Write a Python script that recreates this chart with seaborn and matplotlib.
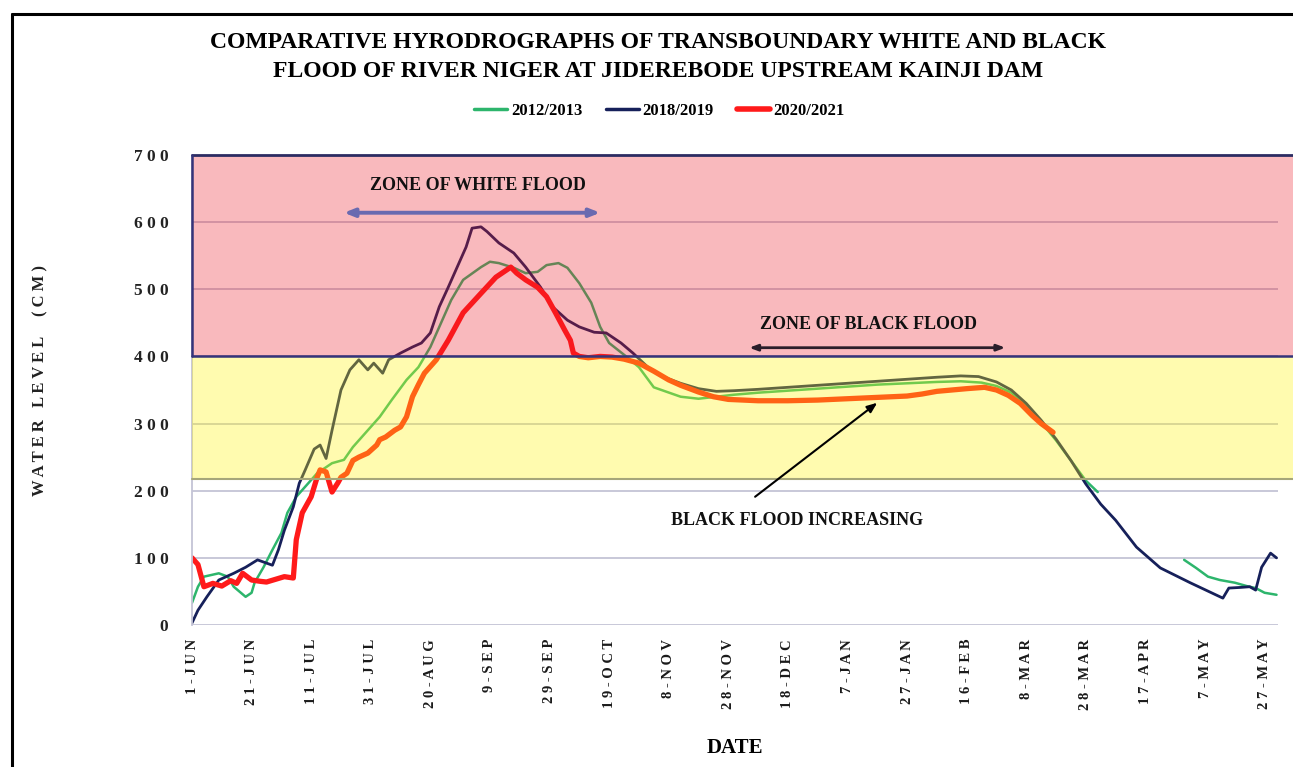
import numpy as np
import pandas as pd
import seaborn as sns
import matplotlib.pyplot as plt
from matplotlib.lines import Line2D
from matplotlib.patches import Rectangle


red_day = [0, 2, 4, 7, 10, 13, 15, 17, 20, 23, 25, 28, 31, 34, 35, 37, 40, 42, 43, 45,
           47, 49, 50, 52, 54, 56, 59, 62, 63, 65, 68, 70, 72, 74, 76, 78, 80, 82, 86, 91,
           97, 102, 105, 107, 109, 112, 116, 119, 122, 125, 127, 128, 130, 133, 137, 141, 145, 150, 155, 160,
           164, 170, 175, 180, 190, 200, 210, 220, 230, 240, 245, 250, 260, 266, 270, 274, 278, 282, 285, 289]
red_lvl = [100, 90, 57, 62, 58, 66, 62, 77, 67, 65, 64, 68, 72, 70, 127, 167, 191, 220, 231, 228,
           198, 212, 220, 226, 245, 250, 256, 268, 276, 280, 290, 295, 310, 340, 358, 375, 385, 395, 424, 465,
           494, 518, 527, 533, 524, 514, 503, 489, 465, 440, 424, 405, 400, 398, 400, 399, 396, 390, 378, 365,
           357, 347, 340, 336, 334, 334, 335, 337, 339, 341, 344, 348, 352, 354, 350, 342, 330, 312, 300, 287]

green_day_a = [0, 2, 4, 9, 12, 14, 18, 20, 21, 24, 27, 30, 32, 35, 38, 42, 47, 51, 54, 59,
               63, 67, 72, 76, 80, 83, 87, 91, 97, 100, 103, 108, 112, 116, 119, 123, 126, 130, 134, 137,
               140, 146, 150, 155, 164, 170, 176, 182, 190, 200, 210, 220, 230, 240, 250, 258, 265, 270, 275, 280,
               285, 290, 295, 300, 304]
green_lvl_a = [33, 57, 72, 77, 72, 57, 42, 48, 63, 86, 112, 137, 167, 191, 206, 226, 241, 246, 265, 290,
               310, 335, 365, 384, 414, 444, 484, 514, 533, 541, 539, 532, 524, 526, 536, 539, 532, 509, 480, 444,
               420, 399, 384, 354, 340, 337, 340, 343, 346, 349, 352, 355, 358, 360, 362, 363, 361, 356, 346, 327,
               302, 275, 245, 215, 198]
green_day_b = [333, 337, 341, 345, 350, 354, 357, 360, 364]
green_lvl_b = [97, 85, 72, 67, 63, 58, 55, 48, 45]

navy_day = [0, 2, 5, 9, 14, 18, 22, 27, 29, 31, 34, 36, 38, 41, 43, 45, 47, 50, 53, 56,
            59, 61, 64, 66, 70, 74, 77, 80, 83, 86, 89, 92, 94, 97, 99, 103, 108, 112, 117, 121,
            126, 130, 135, 139, 144, 148, 153, 158, 164, 170, 176, 182, 190, 200, 210, 220, 230, 240, 250, 258,
            264, 270, 275, 280, 285, 290, 295, 300, 305, 310, 317, 325, 335, 346, 348, 352, 355, 357, 359, 362, 364]
navy_lvl = [3, 22, 42, 67, 77, 86, 97, 89, 112, 141, 176, 211, 231, 262, 268, 248, 290, 350, 380, 395,
            380, 390, 375, 395, 405, 414, 420, 435, 474, 503, 533, 563, 591, 593, 586, 569, 554, 533, 503, 474,
            454, 444, 436, 435, 420, 405, 384, 370, 360, 352, 348, 349, 351, 354, 357, 360, 363, 366, 369, 371,
            370, 362, 350, 330, 305, 277, 245, 210, 180, 156, 116, 85, 63, 40, 55, 56, 57, 52, 86, 107, 100]

tick_days = list(range(0, 361, 20))
tick_names = ["1-JUN", "21-JUN", "11-JUL", "31-JUL", "20-AUG", "9-SEP", "29-SEP", "19-OCT",
              "8-NOV", "28-NOV", "18-DEC", "7-JAN", "27-JAN", "16-FEB", "8-MAR", "28-MAR",
              "17-APR", "7-MAY", "27-MAY"]
y_ticks = [0, 100, 200, 300, 400, 500, 600, 700]
series_names = ["2012/2013", "2018/2019", "2020/2021"]

GREEN = "#2db56c"
NAVY = "#16205a"
RED = "#ff1a1a"

sns.set_theme(style="white")
plt.rcParams['font.family'] = ['Liberation Serif', 'DejaVu Serif']
plt.rcParams['text.color'] = "black"

fig = plt.figure(figsize=(12.93, 7.67), dpi=100)
ax = fig.add_axes([192 / 1293, 1 - 625 / 767, (1278 - 192) / 1293, (625 - 155) / 767])

# gridlines under everything
for v in y_ticks:
    ax.axhline(v, color="#c4c4d6", lw=1.3, zorder=0.5)

df_red = pd.DataFrame({"day": red_day, "level": red_lvl})
df_navy = pd.DataFrame({"day": navy_day, "level": navy_lvl})
df_green = pd.concat([
    pd.DataFrame({"day": green_day_a, "level": green_lvl_a, "seg": 0}),
    pd.DataFrame({"day": green_day_b, "level": green_lvl_b, "seg": 1}),
])

sns.lineplot(data=df_green, x="day", y="level", units="seg", estimator=None,
             color=GREEN, lw=1.8, ax=ax, zorder=2)
sns.lineplot(data=df_navy, x="day", y="level", color=NAVY, lw=2.0, ax=ax, zorder=2.1)
sns.lineplot(data=df_red, x="day", y="level", color=RED, lw=3.8, ax=ax, zorder=2.2)

# flood zones laid over the lines, semi transparent
ax.add_patch(Rectangle((0, 400), 380, 300, facecolor=(0.93, 0.09, 0.15, 0.3),
                       edgecolor="none", zorder=3, clip_on=False))
ax.add_patch(Rectangle((0, 218), 380, 182, facecolor=(1.0, 0.96, 0.05, 0.33),
                       edgecolor="none", zorder=3, clip_on=False))
ax.plot([0, 380], [700, 700], color="#2c2c62", lw=2, zorder=3.5, clip_on=False)
ax.plot([0, 380], [400, 400], color="#34347a", lw=1.8, zorder=3.5, clip_on=False)
ax.plot([0, 0], [400, 700], color="#34347a", lw=1.8, zorder=3.5, clip_on=False)
ax.plot([0, 380], [218, 218], color="#a6a67a", lw=1.5, zorder=3.5, clip_on=False)

ax.set_xlim(0, 364.5)
ax.set_ylim(0, 700)
ax.set_xticks(tick_days)
ax.set_xticklabels([" ".join(t) for t in tick_names], rotation=90, fontsize=10.5,
                   fontweight="bold", color="#1a1a1a", va="top")
ax.set_yticks(y_ticks)
ax.set_yticklabels([" ".join(str(v)) for v in y_ticks], fontsize=12.5,
                   fontweight="bold", color="#222222")
ax.tick_params(axis="x", length=0, pad=10)
ax.tick_params(axis="y", length=0, pad=17)
ax.set_xlabel("")
ax.set_ylabel("")
for side in ["top", "right", "bottom"]:
    ax.spines[side].set_visible(False)
ax.spines["left"].set_color("#c4c4d6")
ax.spines["left"].set_linewidth(1.3)

# annotations
ax.text(96, 654, "ZONE OF WHITE FLOOD", ha="center", va="center", fontsize=13,
        fontweight="bold", color="#111111", zorder=5)
ax.annotate("", xy=(51, 614), xytext=(137, 614), zorder=5,
            arrowprops=dict(arrowstyle="<|-|>,head_length=0.5,head_width=0.2",
                            color="#6a6ab0", lw=2.8, shrinkA=0, shrinkB=0))
ax.text(227, 447, "ZONE OF BLACK FLOOD", ha="center", va="center", fontsize=13,
        fontweight="bold", color="#111111", zorder=5)
ax.annotate("", xy=(187, 413), xytext=(273, 413), zorder=5,
            arrowprops=dict(arrowstyle="<|-|>,head_length=0.4,head_width=0.15",
                            color="#2a1e2a", lw=2.0, shrinkA=0, shrinkB=0))
ax.text(203, 156, "BLACK FLOOD INCREASING", ha="center", va="center", fontsize=13,
        fontweight="bold", color="#111111", zorder=5)
ax.annotate("", xy=(230, 331), xytext=(189, 191), zorder=5,
            arrowprops=dict(arrowstyle="-|>,head_length=0.5,head_width=0.2",
                            color="black", lw=1.5, shrinkA=0, shrinkB=0))

# titles and labels
fig.text(0.509, 1 - 57 / 767,
         "COMPARATIVE HYRODROGRAPHS OF TRANSBOUNDARY WHITE AND BLACK\n"
         "FLOOD OF RIVER NIGER AT JIDEREBODE UPSTREAM KAINJI DAM",
         ha="center", va="center", fontsize=17, fontweight="bold", linespacing=1.45,
         color="black")
fig.text(40 / 1293, 1 - 380 / 767, "W A T E R   L E V E L     ( C M )", rotation=90,
         ha="center", va="center", fontsize=12, fontweight="bold", color="#222222")
fig.text(735 / 1293, 1 - 748 / 767, "DATE", ha="center", va="center",
         fontsize=15, fontweight="bold", color="black")

handles = [Line2D([], [], color=GREEN, lw=2.5),
           Line2D([], [], color=NAVY, lw=2.5),
           Line2D([], [], color=RED, lw=4)]
fig.legend(handles, series_names, loc="center", bbox_to_anchor=(0.51, 1 - 111 / 767),
           ncol=3, frameon=False, handlelength=2.0, handletextpad=0.2, columnspacing=1.4,
           prop={"weight": "bold", "size": 12})

# outer frame (left and top)
fig.add_artist(Line2D([12 / 1293, 12 / 1293], [0, 1 - 14 / 767], color="black", lw=2.2,
                      transform=fig.transFigure))
fig.add_artist(Line2D([12 / 1293, 1], [1 - 14 / 767, 1 - 14 / 767], color="black", lw=2.2,
                      transform=fig.transFigure))

fig.savefig("out.png", dpi=100)
